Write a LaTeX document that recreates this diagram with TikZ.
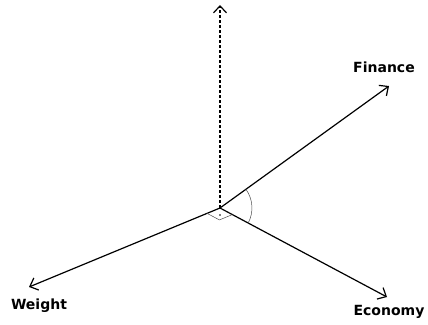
\documentclass[tikz,border=0pt]{standalone}
\usepackage{fontspec}
\setmainfont{DejaVu Sans}
\usetikzlibrary{arrows.meta,calc}
\begin{document}
\begin{tikzpicture}[x=1pt,y=-1pt,
  axis/.style={line width=1.2pt,-{Straight Barb[length=7pt,width=13pt,line width=1.2pt]}},
  lbl/.style={font=\bfseries\fontsize{14}{16}\selectfont,inner sep=0pt},
  thin/.style={line width=0.5pt,draw=black!70}]
\useasboundingbox (0,0) rectangle (428,324);
\coordinate (O) at (220,208);
\coordinate (U) at (220,5);
\coordinate (F) at (389,86);
\coordinate (W) at (29,287);
\coordinate (E) at (387,297);
\draw[axis,dashed,dash pattern=on 3pt off 2pt] (O) -- (U);
\draw[axis] (O) -- (F);
\draw[axis] (O) -- (W);
\draw[axis] (O) -- (E);
\node[lbl] (fl) at (384,67) {Finance};
\node[lbl] (wl) at (39,306) {Weight};
\node[lbl] (el) at (389,312) {Economy};
% angle arc between Finance and Economy
\draw[thin] ($(O)!32pt!(F)$) arc[start angle=35.7,end angle=-28,radius=32pt];
% right angle marker
\coordinate (a) at ($(O)!14pt!(W)$);
\coordinate (b) at ($(O)!14pt!(E)$);
\draw[thin] (a) -- ($(a)+(b)-(O)$) -- (b);
\fill (220,215) circle (0.8pt);
\end{tikzpicture}
\end{document}
